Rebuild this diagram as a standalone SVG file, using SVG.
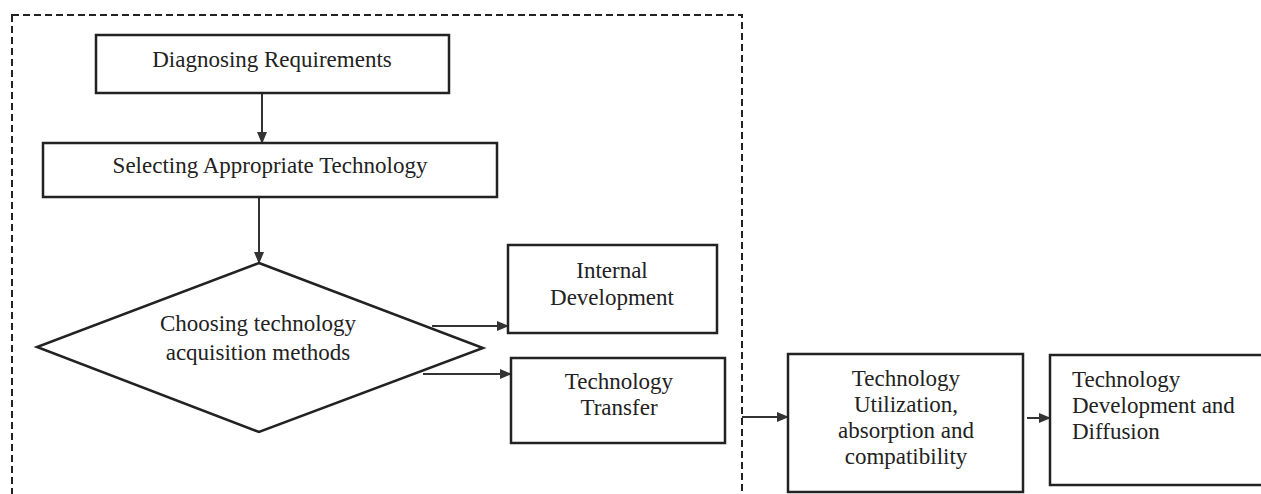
<svg xmlns="http://www.w3.org/2000/svg" width="1261" height="494" viewBox="0 0 1261 494">
<defs>
<marker id="ah" markerWidth="12" markerHeight="10" refX="11" refY="5" orient="auto" markerUnits="userSpaceOnUse">
<path d="M0,0 L12,5 L0,10 Z" fill="#333"/>
</marker>
<style>
.box{fill:#fff;stroke:#222;stroke-width:2.5}
.t{font-family:"Liberation Serif","Times New Roman",serif;font-size:23px;fill:#222}
.c{text-anchor:middle}
.ln{stroke:#333;stroke-width:2;fill:none}
</style>
</defs>
<rect width="1261" height="494" fill="#fff"/>
<rect id="boundary" x="12" y="15" width="730" height="500" fill="none" stroke="#222" stroke-width="2" stroke-dasharray="7,4"/>
<g id="connectors">
<line class="ln" x1="262" y1="93" x2="262" y2="143" marker-end="url(#ah)"/>
<line class="ln" x1="259" y1="197" x2="259" y2="263" marker-end="url(#ah)"/>
<line class="ln" x1="432" y1="326" x2="508" y2="326" marker-end="url(#ah)"/>
<line class="ln" x1="423" y1="374" x2="511" y2="374" marker-end="url(#ah)"/>
<line class="ln" x1="742" y1="417" x2="788" y2="417" marker-end="url(#ah)"/>
<line class="ln" x1="1027" y1="418" x2="1050" y2="418" marker-end="url(#ah)"/>
</g>
<g id="n1"><rect class="box" x="96" y="35" width="353" height="58"/><text class="t c" x="272" y="67">Diagnosing Requirements</text></g>
<g id="n2"><rect class="box" x="43" y="143" width="454" height="54"/><text class="t c" x="270" y="173">Selecting Appropriate Technology</text></g>
<g id="n3"><polygon class="box" points="259,263 483,348 259,432 37,347"/><text class="t c" x="258" y="331">Choosing technology</text><text class="t c" x="258" y="360">acquisition methods</text></g>
<g id="n4"><rect class="box" x="508" y="245" width="209" height="88"/><text class="t c" x="612" y="278">Internal</text><text class="t c" x="612" y="305">Development</text></g>
<g id="n5"><rect class="box" x="511" y="358" width="214" height="85"/><text class="t c" x="619" y="389">Technology</text><text class="t c" x="619" y="415">Transfer</text></g>
<g id="n6"><rect class="box" x="788" y="354" width="235" height="138"/><text class="t c" x="906" y="386">Technology</text><text class="t c" x="906" y="412">Utilization,</text><text class="t c" x="906" y="438">absorption and</text><text class="t c" x="906" y="464">compatibility</text></g>
<g id="n7"><rect class="box" x="1050" y="355" width="220" height="130"/><text class="t" x="1072" y="387">Technology</text><text class="t" x="1072" y="413">Development and</text><text class="t" x="1072" y="439">Diffusion</text></g>
</svg>
